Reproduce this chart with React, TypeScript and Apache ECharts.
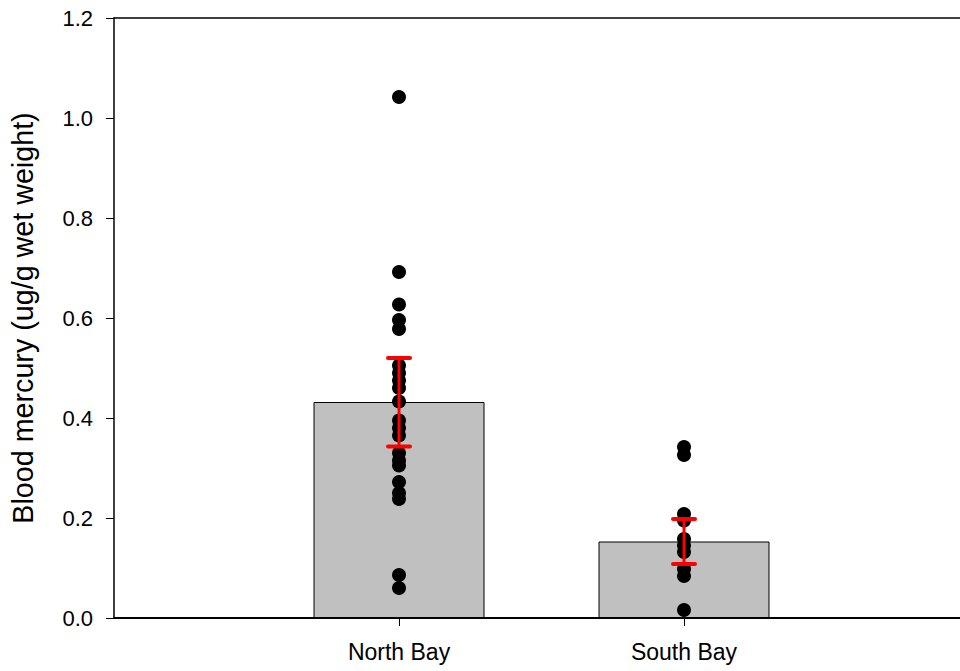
import React, { useEffect, useRef } from "react";
import * as echarts from "echarts";

const categories = ["North Bay", "South Bay"];
const barMeans = [0.432, 0.153];
const errLow = [0.343, 0.108];
const errHigh = [0.52, 0.198];
const northBayPoints = [
  1.042, 0.692, 0.627, 0.596, 0.578, 0.505, 0.49, 0.475, 0.46, 0.433, 0.395,
  0.38, 0.365, 0.33, 0.315, 0.305, 0.272, 0.25, 0.238, 0.086, 0.06,
];
const southBayPoints = [
  0.342, 0.326, 0.208, 0.195, 0.158, 0.145, 0.132, 0.098, 0.084, 0.016,
];

const FONT = "Liberation Sans, Arial, sans-serif";

export default function App() {
  const ref = useRef<HTMLDivElement>(null);
  useEffect(() => {
    if (!ref.current) return;
    const chart = echarts.init(ref.current, null, { renderer: "svg" });
    const scatterData: number[][] = [];
    northBayPoints.forEach((v) => scatterData.push([1, v]));
    southBayPoints.forEach((v) => scatterData.push([2, v]));
    const xMax = (960 - 114) / 285;
    chart.setOption({
      animation: false,
      backgroundColor: "#ffffff",
      grid: { left: 114, right: 0, top: 18, bottom: 53 },
      xAxis: [
        {
          type: "value",
          min: 0,
          max: xMax,
          position: "bottom",
          axisLine: { show: true, lineStyle: { color: "#000", width: 2 } },
          axisTick: {
            show: true,
            customValues: [1, 2],
            length: 8,
            lineStyle: { color: "#000", width: 1 },
          },
          axisLabel: {
            show: true,
            customValues: [1, 2],
            formatter: (v: number) => categories[Math.round(v) - 1] ?? "",
            color: "#000",
            fontSize: 23,
            fontFamily: FONT,
            margin: 22,
          },
          splitLine: { show: false },
        },
        {
          type: "value",
          min: 0,
          max: xMax,
          position: "top",
          axisLine: { show: true, lineStyle: { color: "#000", width: 1.5 } },
          axisTick: { show: false },
          axisLabel: { show: false },
          splitLine: { show: false },
        },
      ],
      yAxis: {
        type: "value",
        min: 0,
        max: 1.2,
        interval: 0.2,
        name: "Blood mercury (ug/g wet weight)",
        nameLocation: "middle",
        nameGap: 77,
        nameTextStyle: { color: "#000", fontSize: 28.7, fontFamily: FONT },
        axisLine: { show: true, lineStyle: { color: "#000", width: 1.5 } },
        axisTick: {
          show: true,
          length: 8,
          lineStyle: { color: "#000", width: 1 },
        },
        axisLabel: {
          color: "#000",
          fontSize: 22,
          fontFamily: FONT,
          margin: 21,
          formatter: (v: number) => v.toFixed(1),
        },
        splitLine: { show: false },
      },
      series: [
        {
          type: "bar",
          data: barMeans.map((m, i) => [i + 1, m]),
          barWidth: 171,
          itemStyle: { color: "#c0c0c0", borderColor: "#000", borderWidth: 1 },
          z: 1,
        },
        {
          type: "scatter",
          data: scatterData,
          symbol: "circle",
          symbolSize: 14,
          itemStyle: { color: "#000", opacity: 1 },
          z: 2,
        },
        {
          type: "custom",
          data: errLow.map((lo, i) => [i + 1, lo, errHigh[i]]),
          z: 3,
          renderItem: (params: any, api: any) => {
            const x = api.value(0);
            const lo = api.coord([x, api.value(1)]);
            const hi = api.coord([x, api.value(2)]);
            const hw = 11;
            const style = { stroke: "#ff0000", lineWidth: 4, lineCap: "round" };
            return {
              type: "group",
              children: [
                {
                  type: "line",
                  shape: { x1: lo[0], y1: lo[1], x2: hi[0], y2: hi[1] },
                  style: { stroke: "#ff0000", lineWidth: 3 },
                },
                {
                  type: "line",
                  shape: { x1: lo[0] - hw, y1: lo[1], x2: lo[0] + hw, y2: lo[1] },
                  style,
                },
                {
                  type: "line",
                  shape: { x1: hi[0] - hw, y1: hi[1], x2: hi[0] + hw, y2: hi[1] },
                  style,
                },
              ],
            };
          },
        },
      ],
    });
    return () => chart.dispose();
  }, []);
  return (
    <div
      ref={ref}
      style={{ position: "fixed", left: 0, top: 0, width: 960, height: 671 }}
    />
  );
}
